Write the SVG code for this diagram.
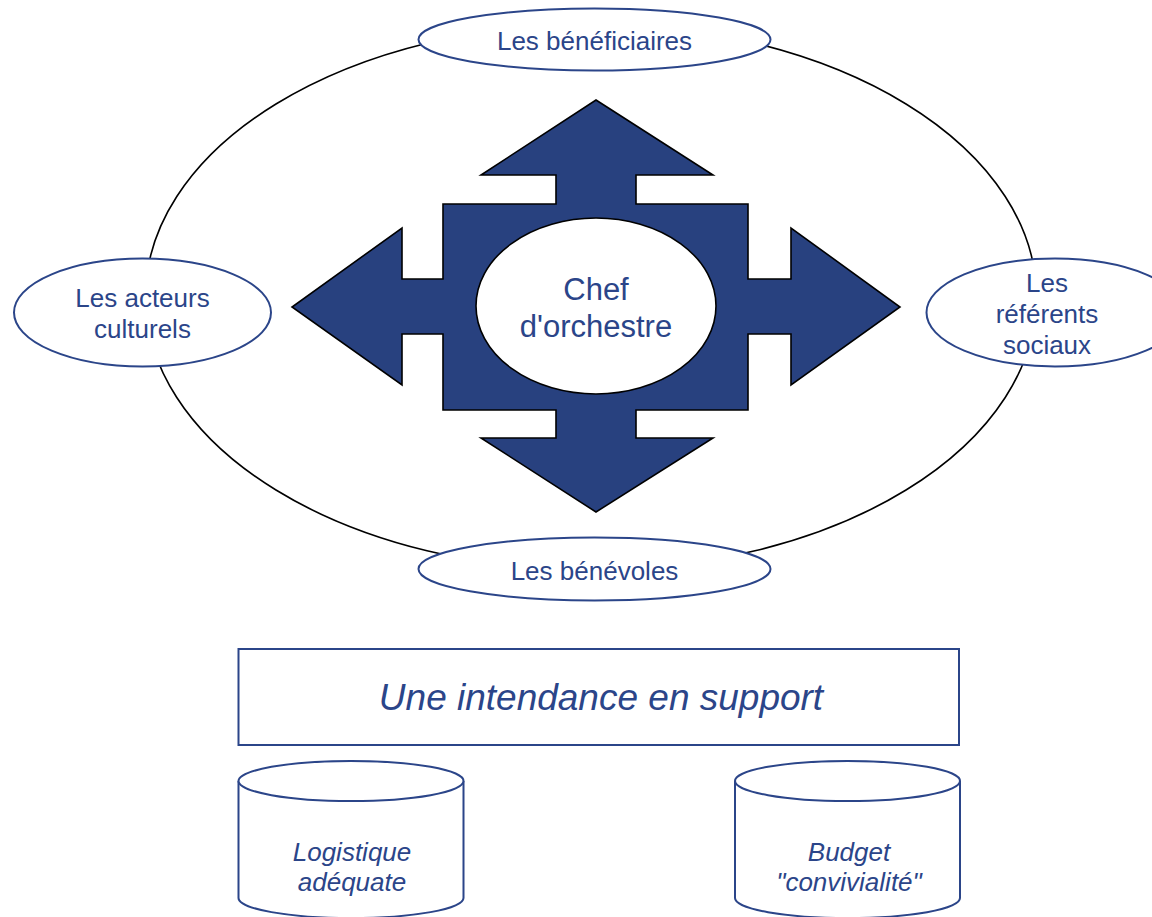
<svg xmlns="http://www.w3.org/2000/svg" width="1152" height="917" viewBox="0 0 1152 917">
<style>
.t{font-family:"Liberation Sans",Arial,sans-serif;fill:#2B4589;text-anchor:middle}
.it{font-style:italic}
.node{fill:#fff;stroke:#2B4589;stroke-width:2}
.ring{fill:none;stroke:#000;stroke-width:1.6}
</style>
<rect width="1152" height="917" fill="#fff"/>
<g id="connectors">
<ellipse class="ring" cx="591" cy="297" rx="445.5" ry="273"/>
</g>
<g id="cross">
<path d="M596,100 L713,175 L636,175 L636,204 L748,204 L748,279 L791,279 L791,228 L900,307 L791,385 L791,334 L748,334 L748,410 L636,410 L636,438 L713,438 L596,512 L481,438 L556,438 L556,410 L443,410 L443,334 L402,334 L402,385 L292,307 L402,228 L402,279 L443,279 L443,204 L556,204 L556,175 L481,175 Z" fill="#28417F" stroke="#000" stroke-width="1.6" stroke-linejoin="miter"/>
</g>
<g id="chef">
<ellipse cx="596" cy="306" rx="120" ry="88" fill="#fff" stroke="#000" stroke-width="1.6"/>
<text class="t" x="596" y="300" font-size="31">Chef</text>
<text class="t" x="596" y="337" font-size="31">d'orchestre</text>
</g>
<g id="beneficiaires">
<ellipse class="node" cx="594.5" cy="39.5" rx="176" ry="31"/>
<text class="t" x="594.5" y="50" font-size="26">Les bénéficiaires</text>
</g>
<g id="acteurs">
<ellipse class="node" cx="142.5" cy="312.5" rx="128.5" ry="54"/>
<text class="t" x="142.5" y="307" font-size="26">Les acteurs</text>
<text class="t" x="142.5" y="338" font-size="26">culturels</text>
</g>
<g id="referents">
<ellipse class="node" cx="1055" cy="312.5" rx="128.5" ry="54"/>
<text class="t" x="1047" y="292" font-size="26">Les</text>
<text class="t" x="1047" y="323" font-size="26">référents</text>
<text class="t" x="1047" y="354" font-size="26">sociaux</text>
</g>
<g id="benevoles">
<ellipse class="node" cx="594.5" cy="569" rx="176" ry="31.5"/>
<text class="t" x="594.5" y="580" font-size="26">Les bénévoles</text>
</g>
<g id="intendance">
<rect x="238.5" y="649" width="720.5" height="96" fill="#fff" stroke="#2B4589" stroke-width="2"/>
<text class="t it" x="601" y="710" font-size="37">Une intendance en support</text>
</g>
<g id="logistique">
<path class="node" d="M238.5,781 L238.5,898 A112.5,20 0 0 0 463.5,898 L463.5,781"/>
<ellipse class="node" cx="351" cy="781" rx="112.5" ry="20"/>
<text class="t it" x="352" y="861" font-size="26">Logistique</text>
<text class="t it" x="352" y="891" font-size="26">adéquate</text>
</g>
<g id="budget">
<path class="node" d="M735,781 L735,898 A112.5,20 0 0 0 960,898 L960,781"/>
<ellipse class="node" cx="847.5" cy="781" rx="112.5" ry="20"/>
<text class="t it" x="849" y="861" font-size="26">Budget</text>
<text class="t it" x="849" y="891" font-size="26">"convivialité"</text>
</g>
</svg>
